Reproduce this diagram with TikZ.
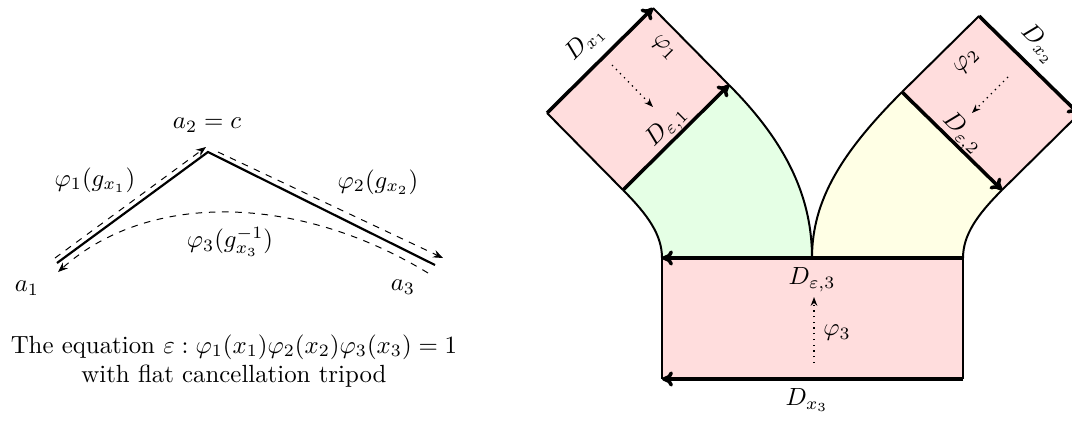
\documentclass[tikz,border=0pt]{standalone}
\usetikzlibrary{arrows.meta}
\definecolor{pinkf}{RGB}{255,221,221}
\definecolor{greenf}{RGB}{229,255,229}
\definecolor{yellowf}{RGB}{255,255,229}
\tikzset{
  solidedge/.style={line width=1pt},
  dasharrow/.style={dashed,line width=0.45pt,-{Stealth[length=4.5pt,width=3.5pt]}},
  dotarrow/.style={dotted,line width=0.6pt,-{Stealth[length=4pt,width=3pt]}},
  outline/.style={line width=0.9pt},
  bigarrow/.style={line width=1.6pt,-{To[length=5pt,width=7pt]}},
  lbl/.style={inner sep=1pt,scale=1.13}
}
\begin{document}
\begin{tikzpicture}[x=0.455pt,y=-0.455pt]
\useasboundingbox (0,0) rectangle (1072,423);
% ---------- left figure ----------
\coordinate (A1) at (57,263);
\coordinate (A2) at (208,152);
\coordinate (A3) at (435,265);
\coordinate (d1s) at (55,258);
\coordinate (d1e) at (206,147);
\coordinate (d2s) at (218,152);
\coordinate (d2e) at (443,258);
\coordinate (d3s) at (428,273);
\coordinate (d3e) at (58,272);
\draw[solidedge] (A1) -- (A2) -- (A3);
\draw[dasharrow] (d1s) -- (d1e);
\draw[dasharrow] (d2s) -- (d2e);
\draw[dasharrow] (d3s) .. controls (300,195) and (150,190) .. (d3e);
\node[lbl] (la2) at (207,125) {$a_2=c$};
\node[lbl] (lp1) at (95,180) {$\varphi_1(g_{x_1})$};
\node[lbl] (lp2) at (378,182) {$\varphi_2(g_{x_2})$};
\node[lbl] (lp3) at (230,242) {$\varphi_3(g_{x_3}^{-1})$};
\node[lbl] (la1) at (27,288) {$a_1$};
\node[lbl] (la3) at (403,287) {$a_3$};
\node[lbl,align=center] (cap) at (234,361) {The equation $\varepsilon:\varphi_1(x_1)\varphi_2(x_2)\varphi_3(x_3)=1$\\ with flat cancellation tripod};
% ---------- right figure ----------
\coordinate (L1l) at (547,113);
\coordinate (L1t) at (653,8);
\coordinate (L1r) at (729,85);
\coordinate (L1b) at (623,190);
\coordinate (R2l) at (902,92);
\coordinate (R2t) at (979,16);
\coordinate (R2r) at (1079,114);
\coordinate (R2b) at (1002,190);
\coordinate (B3tl) at (662,258);
\coordinate (B3tr) at (963,258);
\coordinate (B3bl) at (662,379);
\coordinate (B3br) at (963,379);
\coordinate (M) at (812,258);
% fills
\fill[greenf] (L1b) -- (L1r) .. controls (789,145) and (812,200) .. (M) -- (B3tl) .. controls (662,235) and (648,215) .. (L1b) -- cycle;
\fill[yellowf] (R2l) -- (R2b) .. controls (977,215) and (963,235) .. (B3tr) -- (M) .. controls (812,200) and (842,152) .. (R2l) -- cycle;
\fill[pinkf] (L1l) -- (L1t) -- (L1r) -- (L1b) -- cycle;
\fill[pinkf] (R2l) -- (R2t) -- (R2r) -- (R2b) -- cycle;
\fill[pinkf] (B3tl) rectangle (B3br);
% outlines
\draw[outline] (L1t) -- (L1r);
\draw[outline] (L1l) -- (L1b);
\draw[outline] (R2l) -- (R2t);
\draw[outline] (R2r) -- (R2b);
\draw[outline] (B3tr) -- (B3br);
\draw[outline] (B3tl) -- (B3bl);
\draw[outline] (L1r) .. controls (789,145) and (812,200) .. (M);
\draw[outline] (M) .. controls (812,200) and (842,152) .. (R2l);
\draw[outline] (L1b) .. controls (648,215) and (662,235) .. (B3tl);
\draw[outline] (R2b) .. controls (977,215) and (963,235) .. (B3tr);
% arrows
\draw[bigarrow] (L1l) -- (L1t);
\draw[bigarrow] (L1b) -- (L1r);
\draw[bigarrow] (R2t) -- (R2r);
\draw[bigarrow] (R2l) -- (R2b);
\draw[bigarrow] (B3tr) -- (B3tl);
\draw[bigarrow] (B3br) -- (B3bl);
% dotted arrows
\coordinate (p1s) at (612,65);
\coordinate (p1e) at (653,107);
\coordinate (p2s) at (1008,77);
\coordinate (p2e) at (972,113);
\coordinate (p3s) at (814,363);
\coordinate (p3e) at (814,297);
\draw[dotarrow] (p1s) -- (p1e);
\draw[dotarrow] (p2s) -- (p2e);
\draw[dotarrow] (p3s) -- (p3e);
% labels
\node[lbl,rotate=45] (tDx1) at (585,43) {$D_{x_1}$};
\node[lbl,rotate=-45] (tp1) at (664,48) {$\varphi_1$};
\node[lbl,rotate=45] (tDe1) at (667,127) {$D_{\varepsilon,1}$};
\node[lbl,rotate=45] (tp2) at (967,62) {$\varphi_2$};
\node[lbl,rotate=-45] (tDx2) at (1039,44) {$D_{x_2}$};
\node[lbl,rotate=-45] (tDe2) at (962,134) {$D_{\varepsilon,2}$};
\node[lbl] (tDe3) at (812,280) {$D_{\varepsilon,3}$};
\node[lbl] (tp3) at (837,333) {$\varphi_3$};
\node[lbl] (tDx3) at (807,400) {$D_{x_3}$};
\end{tikzpicture}
\end{document}
